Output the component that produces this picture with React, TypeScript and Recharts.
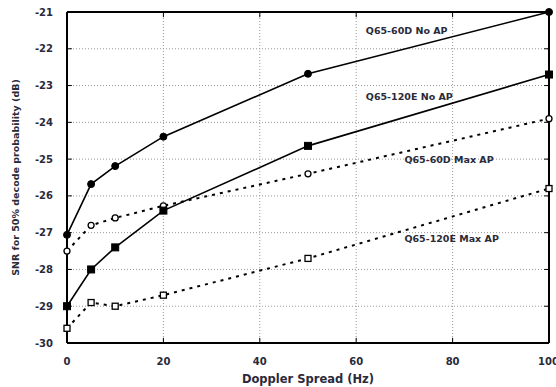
import React from 'react';
import {
  LineChart,
  Line,
  XAxis,
  YAxis,
  CartesianGrid,
  ReferenceDot,
  ReferenceLine,
} from 'recharts';

const dopplerHz = [0, 5, 10, 20, 50, 100];
const noAp60D = [-27.06, -25.68, -25.19, -24.39, -22.68, -21.0];
const noAp120E = [-29.0, -28.0, -27.4, -26.4, -24.64, -22.7];
const maxAp60D = [-27.5, -26.8, -26.6, -26.27, -25.4, -23.9];
const maxAp120E = [-29.6, -28.9, -29.0, -28.7, -27.7, -25.8];

const xTicks = [0, 20, 40, 60, 80, 100];
const yTicks = [-30, -29, -28, -27, -26, -25, -24, -23, -22, -21];

const labelNames = ['Q65-60D No AP', 'Q65-120E No AP', 'Q65-60D Max AP', 'Q65-120E Max AP'];
const labelX = [62, 62, 70, 70];
const labelY = [-21.49, -23.31, -25.02, -27.17];

const data = dopplerHz.map((x, i) => ({
  x,
  a: noAp60D[i],
  b: noAp120E[i],
  c: maxAp60D[i],
  d: maxAp120E[i],
}));

const X_MIN = 0;
const X_MAX = 100;
const Y_MIN = -30;
const Y_MAX = -21;
// inward tick length, in data units (~5px)
const TICK_DX = 1;
const TICK_DY = 0.14;

const FONT = '"DejaVu Sans", Verdana, sans-serif';
const TEXT = '#2a2a3a';

// marker shapes
const Square = (filled: boolean, size: number) => (props: any) => {
  const { cx, cy, index } = props;
  if (cx == null || cy == null) return <g key={index} />;
  return (
    <rect
      key={index}
      x={cx - size / 2}
      y={cy - size / 2}
      width={size}
      height={size}
      fill={filled ? '#000' : '#fff'}
      stroke="#000"
      strokeWidth={filled ? 1 : 1.3}
    />
  );
};

const Circle = (filled: boolean, r: number) => (props: any) => {
  const { cx, cy, index } = props;
  if (cx == null || cy == null) return <g key={index} />;
  return (
    <circle
      key={index}
      cx={cx}
      cy={cy}
      r={r}
      fill={filled ? '#000' : '#fff'}
      stroke="#000"
      strokeWidth={filled ? 1 : 1.3}
    />
  );
};

export default function App() {
  const tickStyle = { fontSize: 10, fontFamily: FONT, fill: TEXT, fontWeight: 'bold' };
  return (
    <div style={{ position: 'absolute', left: 0, top: 0, background: '#fff' }}>
      <LineChart
        width={556}
        height={387}
        data={data}
        margin={{ top: 12, right: 7, left: 0, bottom: 0 }}
      >
        <CartesianGrid
          stroke="#999"
          strokeDasharray="1 2"
          verticalValues={[20, 40, 60, 80]}
          horizontalValues={yTicks}
        />
        <XAxis
          dataKey="x"
          type="number"
          domain={[X_MIN, X_MAX]}
          ticks={xTicks}
          height={44}
          axisLine={{ stroke: '#000', strokeWidth: 2 }}
          tickLine={false}
          tickMargin={9}
          tick={tickStyle}
          label={{
            value: 'Doppler Spread (Hz)',
            position: 'insideBottom',
            offset: 4,
            style: { fontSize: 11.5, fontFamily: FONT, fill: TEXT, fontWeight: 'bold' },
          }}
        />
        <YAxis
          type="number"
          domain={[Y_MIN, Y_MAX]}
          ticks={yTicks}
          width={67}
          axisLine={{ stroke: '#000', strokeWidth: 2 }}
          tickLine={false}
          tickMargin={8}
          tick={tickStyle}
          label={{
            value: 'SNR for 50% decode probability (dB)',
            angle: -90,
            position: 'insideLeft',
            offset: 16,
            style: { textAnchor: 'middle', fontSize: 9.5, fontFamily: FONT, fill: TEXT, fontWeight: 'bold' },
          }}
        />
        {/* frame: top and right edges */}
        <ReferenceLine y={Y_MAX} stroke="#000" strokeWidth={2} />
        <ReferenceLine x={X_MAX} stroke="#000" strokeWidth={2} />
        {/* inward tick marks on all four sides */}
        {yTicks.map((v) => (
          <ReferenceLine
            key={'yl' + v}
            segment={[{ x: X_MIN, y: v }, { x: X_MIN + TICK_DX, y: v }]}
            stroke="#000"
          />
        ))}
        {yTicks.map((v) => (
          <ReferenceLine
            key={'yr' + v}
            segment={[{ x: X_MAX - TICK_DX, y: v }, { x: X_MAX, y: v }]}
            stroke="#000"
          />
        ))}
        {xTicks.map((v) => (
          <ReferenceLine
            key={'xb' + v}
            segment={[{ x: v, y: Y_MIN }, { x: v, y: Y_MIN + TICK_DY }]}
            stroke="#000"
          />
        ))}
        {xTicks.map((v) => (
          <ReferenceLine
            key={'xt' + v}
            segment={[{ x: v, y: Y_MAX - TICK_DY }, { x: v, y: Y_MAX }]}
            stroke="#000"
          />
        ))}
        <Line
          dataKey="c"
          stroke="#000"
          strokeWidth={2}
          strokeDasharray="3 5"
          dot={Circle(false, 3)}
          isAnimationActive={false}
        />
        <Line
          dataKey="d"
          stroke="#000"
          strokeWidth={2}
          strokeDasharray="3 5"
          dot={Square(false, 6)}
          isAnimationActive={false}
        />
        <Line
          dataKey="a"
          stroke="#000"
          strokeWidth={1.6}
          dot={Circle(true, 3.5)}
          isAnimationActive={false}
        />
        <Line
          dataKey="b"
          stroke="#000"
          strokeWidth={1.6}
          dot={Square(true, 7)}
          isAnimationActive={false}
        />
        {labelNames.map((name, i) => (
          <ReferenceDot
            key={name}
            x={labelX[i]}
            y={labelY[i]}
            r={0}
            shape={(p: any) => (
              <text
                x={p.cx}
                y={p.cy}
                dominantBaseline="central"
                fontSize={9.5}
                fontFamily={FONT}
                fontWeight="bold"
                fill={TEXT}
              >
                {name}
              </text>
            )}
          />
        ))}
      </LineChart>
    </div>
  );
}
